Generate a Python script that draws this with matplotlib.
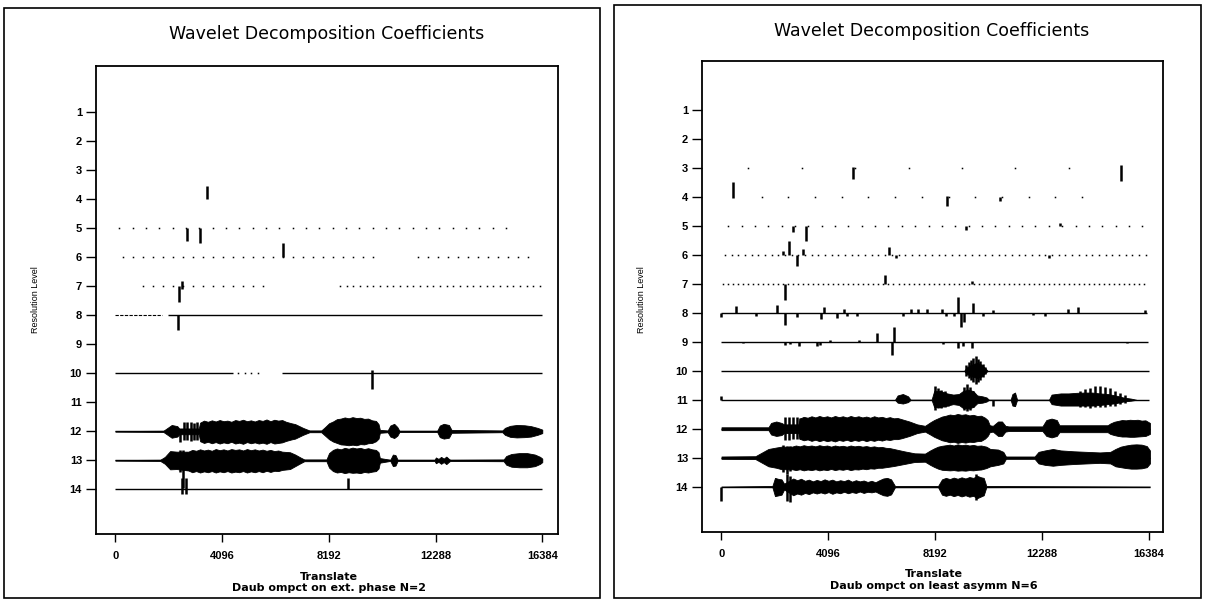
import numpy as np
import matplotlib
matplotlib.use("Agg")
import matplotlib.pyplot as plt
from matplotlib.patches import Rectangle

plt.rcParams['font.family'] = ['Liberation Sans', 'DejaVu Sans']

# ---------------- common ----------------
levels = list(range(1, 15))
x_ticks = [0, 4096, 8192, 12288, 16384]
title = "Wavelet Decomposition Coefficients"
xlabel = "Translate"
ylabel = "Resolution Level"
L_sub = "Daub ompct on ext. phase N=2"
R_sub = "Daub ompct on least asymm N=6"

# ---------------- LEFT panel data ----------------
# baselines: level, start, end
L_base_lvl = [8, 10, 10, 12, 13, 14]
L_base_x0 = [2000, 0, 6380, 0, 0, 0]
L_base_x1 = [16384, 4500, 16384, 16384, 16384, 16384]
# faint dashed start of level 8
L_faint_lvl = [8]
L_faint_x0 = [0]
L_faint_x1 = [1800]
# dotted rows (small coefficients): level, first, last, step
L_dot_lvl = [5, 6, 6, 7, 7, 10]
L_dot_x0 = [150, 300, 11600, 1070, 8620, 4700]
L_dot_x1 = [15100, 10200, 16200, 5680, 16300, 5500]
L_dot_step = [512, 384, 384, 384, 256, 256]
# isolated coefficients: level, translate, upward size, downward size
L_spk_lvl = [4, 5, 5, 6, 7, 7, 8, 10,
             12, 12, 12, 12, 12, 12,
             13, 13, 13,
             14, 14, 14]
L_spk_x = [3516, 2735, 3247, 6444, 2556, 2441, 2403, 9836,
           2480, 2640, 2760, 2890, 3020, 3150,
           2480, 2607, 2735,
           2560, 2700, 8940]
L_spk_up = [0.45, 0, 0, 0.48, 0.2, 0, 0, 0.1,
            0.05, 0.33, 0.33, 0.33, 0.3, 0.33,
            0.35, 0.35, 0.3,
            0.4, 0.4, 0.4]
L_spk_dn = [0, 0.43, 0.5, 0, 0.1, 0.55, 0.5, 0.55,
            0.35, 0.3, 0.3, 0.32, 0.3, 0.3,
            0.4, 0.97, 0.35,
            0.15, 0.15, 0]

# dense levels (envelopes): translate, upward extent, downward extent
L12_x = [0, 1840, 1970, 2160, 2375, 2450, 3200,
         3250, 3400, 3550, 3700, 3850, 4000, 4150, 4300, 4450, 4600, 4750, 4900, 5050, 5200,
         5350, 5500, 5650, 5800, 5950, 6100, 6250, 6400, 6550,
         6750, 6900, 7200, 7450,
         7900, 8050, 8200, 8350, 8500, 8650, 8800, 8950, 9100, 9250, 9400, 9550, 9700, 9850,
         10000, 10100, 10150,
         10450, 10550, 10700, 10820, 10900, 12350, 12450, 12600, 12800, 12900,
         14850, 14950, 15150, 15400, 15700, 15950, 16200, 16384]
L12_up = [0.01, 0.02, 0.1, 0.22, 0.18, 0.1, 0.1,
          0.30, 0.37, 0.33, 0.38, 0.34, 0.39, 0.35, 0.37, 0.33, 0.39, 0.36, 0.40, 0.35, 0.38,
          0.34, 0.39, 0.36, 0.41, 0.35, 0.40, 0.37, 0.39, 0.33,
          0.28, 0.25, 0.12, 0.03,
          0.03, 0.15, 0.28, 0.34, 0.42, 0.44, 0.48, 0.45, 0.49, 0.46, 0.47, 0.43, 0.44, 0.38,
          0.36, 0.25, 0.05,
          0.03, 0.2, 0.26, 0.15, 0.02, 0.02, 0.2, 0.26, 0.22, 0.05,
          0.03, 0.12, 0.19, 0.22, 0.21, 0.18, 0.12, 0.06]
L12_dn = [0.01, 0.02, 0.1, 0.22, 0.18, 0.1, 0.1,
          0.34, 0.40, 0.36, 0.41, 0.37, 0.42, 0.38, 0.41, 0.36, 0.42, 0.39, 0.43, 0.37, 0.41,
          0.38, 0.42, 0.39, 0.43, 0.37, 0.42, 0.40, 0.38, 0.33,
          0.28, 0.25, 0.12, 0.03,
          0.03, 0.15, 0.27, 0.35, 0.40, 0.45, 0.46, 0.48, 0.46, 0.48, 0.44, 0.45, 0.41, 0.40,
          0.34, 0.25, 0.05,
          0.03, 0.18, 0.23, 0.15, 0.02, 0.02, 0.2, 0.25, 0.22, 0.05,
          0.03, 0.12, 0.19, 0.21, 0.2, 0.18, 0.12, 0.06]

L13_x = [0, 1720, 1900, 2100, 2350,
         2800, 2950, 3100, 3250, 3400, 3550, 3700, 3850, 4000, 4150, 4300, 4450, 4600, 4750,
         4900, 5050, 5200, 5350, 5500, 5650, 5800, 5950, 6100, 6250, 6400,
         6700, 6900, 7100, 7250,
         8100, 8200, 8350, 8500, 8650, 8800, 8950, 9100, 9250, 9400, 9550, 9700, 9850, 10000,
         10100, 10150,
         10550, 10650, 10750, 10830, 12250, 12300, 12400, 12500, 12600, 12700, 12800, 12850,
         14900, 15000, 15200, 15500, 15800, 16100, 16300, 16384]
L13_up = [0.01, 0.02, 0.12, 0.32, 0.3,
          0.30, 0.36, 0.33, 0.38, 0.34, 0.37, 0.33, 0.39, 0.35, 0.38, 0.34, 0.39, 0.36, 0.38,
          0.34, 0.39, 0.35, 0.38, 0.34, 0.37, 0.33, 0.36, 0.32, 0.34, 0.30,
          0.28, 0.2, 0.1, 0.03,
          0.03, 0.25, 0.36, 0.41, 0.38, 0.43, 0.40, 0.44, 0.41, 0.43, 0.39, 0.42, 0.38, 0.36,
          0.28, 0.08,
          0.02, 0.2, 0.18, 0.02, 0.02, 0.1, 0.05, 0.12, 0.06, 0.13, 0.05, 0.02,
          0.03, 0.15, 0.22, 0.25, 0.25, 0.2, 0.12, 0.06]
L13_dn = [0.01, 0.02, 0.12, 0.31, 0.3,
          0.35, 0.41, 0.37, 0.42, 0.38, 0.41, 0.37, 0.42, 0.38, 0.41, 0.37, 0.42, 0.39, 0.41,
          0.37, 0.42, 0.38, 0.41, 0.37, 0.41, 0.36, 0.40, 0.36, 0.37, 0.33,
          0.3, 0.2, 0.1, 0.03,
          0.03, 0.25, 0.37, 0.42, 0.40, 0.44, 0.41, 0.43, 0.42, 0.44, 0.40, 0.42, 0.39, 0.37,
          0.28, 0.08,
          0.02, 0.2, 0.18, 0.02, 0.02, 0.1, 0.05, 0.12, 0.06, 0.13, 0.05, 0.02,
          0.03, 0.15, 0.22, 0.24, 0.24, 0.2, 0.12, 0.06]

# ---------------- RIGHT panel data ----------------
R_base_lvl = [8, 9, 10, 11, 12, 13, 14]
R_base_x0 = [0, 0, 0, 0, 0, 0, 0]
R_base_x1 = [16300, 16350, 16384, 16384, 16420, 16420, 16420]
R_faint_lvl = []
R_faint_x0 = []
R_faint_x1 = []
R_dot_lvl = [3, 4, 5, 6, 7]
R_dot_x0 = [1024, 1536, 256, 128, 64]
R_dot_x1 = [13312, 13824, 16128, 16256, 16320]
R_dot_step = [2048, 1024, 512, 256, 192]

# spikes grouped by level: (translate, up, down)
R_spk_3 = [(5040, 0.05, 0.38), (15300, 0.1, 0.45)]
R_spk_4 = [(430, 0.52, 0.03), (8632, 0.05, 0.3), (10675, 0, 0.12)]
R_spk_5 = [(2729, 0, 0.2), (3239, 0, 0.52), (9372, 0, 0.12), (12975, 0.1, 0)]
R_spk_6 = [(2369, 0.15, 0), (2599, 0.5, 0), (2882, 0, 0.38), (3112, 0.22, 0),
           (6420, 0.28, 0), (6689, 0, 0.1), (12553, 0, 0.1)]
R_spk_7 = [(2445, 0, 0.55), (6267, 0.3, 0), (9590, 0.12, 0)]
R_spk_8 = [(0, 0, 0.15), (556, 0.23, 0), (1322, 0, 0.1), (2139, 0.28, 0), (2422, 0, 0.43),
           (2906, 0, 0.15), (3802, 0, 0.2), (3929, 0.2, 0), (4415, 0, 0.18), (4695, 0.15, 0),
           (4798, 0, 0.12), (5182, 0, 0.1), (6969, 0, 0.12), (7252, 0.15, 0), (7544, 0.13, 0),
           (7866, 0.13, 0), (8464, 0.15, 0), (8593, 0, 0.12), (8924, 0, 0.12), (9054, 0.54, 0),
           (9192, 0, 0.5), (9295, 0, 0.3), (9652, 0.34, 0), (10035, 0, 0.12), (10418, 0.1, 0),
           (11952, 0, 0.08), (12400, 0, 0.1), (13293, 0.15, 0), (13677, 0.2, 0), (16233, 0.12, 0)]
R_spk_9 = [(812, 0, 0.05), (2434, 0, 0.1), (2626, 0, 0.08), (2983, 0, 0.15), (3649, 0, 0.15),
           (3776, 0, 0.12), (4159, 0.08, 0), (5282, 0.08, 0), (5949, 0.3, 0), (6547, 0, 0.45),
           (6624, 0.52, 0), (8479, 0, 0.08), (9077, 0, 0.22), (9269, 0, 0.15), (9590, 0, 0.2),
           (15531, 0, 0.05)]
R_spk_10 = [(9380, 0.2, 0.18), (9470, 0.3, 0.25), (9560, 0.38, 0.3), (9650, 0.45, 0.4),
            (9740, 0.52, 0.44), (9830, 0.42, 0.38), (9920, 0.35, 0.3), (10010, 0.25, 0.22),
            (10100, 0.15, 0.12)]
R_spk_11 = [(0, 0.14, 0), (8180, 0.48, 0.36), (8300, 0.4, 0.3), (8430, 0.35, 0.28),
            (8560, 0.3, 0.25), (8700, 0.2, 0.2), (9280, 0.45, 0.35), (9400, 0.54, 0.4),
            (9520, 0.45, 0.35), (9650, 0.3, 0.25), (10420, 0, 0.2), (13750, 0.3, 0.25),
            (13940, 0.38, 0.26), (14130, 0.42, 0.27), (14320, 0.48, 0.26), (14510, 0.46, 0.25),
            (14700, 0.44, 0.24), (14890, 0.4, 0.22), (15080, 0.32, 0.2), (15270, 0.25, 0.15),
            (15460, 0.15, 0.1)]
R_spk_12 = [(2450, 0.4, 0.38), (2600, 0.4, 0.38), (2750, 0.42, 0.36), (2880, 0.4, 0.36),
            (3000, 0.38, 0.35)]
R_spk_13 = [(2350, 0.45, 0.5), (2500, 0.4, 0.55), (2620, 0.4, 0.45)]
R_spk_14 = [(0, 0, 0.5), (2500, 0.42, 0.5), (2620, 0.35, 0.55), (9750, 0.42, 0.45)]

R10_x = [9300, 9400, 9550, 9700, 9800, 9950, 10100, 10200]
R10_up = [0.0, 0.12, 0.2, 0.25, 0.28, 0.22, 0.1, 0.0]
R10_dn = [0.0, 0.1, 0.18, 0.22, 0.25, 0.2, 0.08, 0.0]

R11_x = [6650, 6750, 6950, 7150, 7250, 8050, 8150, 8400, 8650, 8880, 9100, 9250, 9450, 9650,
         9800, 10000, 10160, 10250, 11080, 11150, 11250, 11330, 12550, 12650, 13000, 13300,
         13600, 13900, 14200, 14500, 14800, 15100, 15400, 15700, 15900]
R11_up = [0.0, 0.15, 0.2, 0.12, 0.0, 0.0, 0.3, 0.3, 0.22, 0.18, 0.2, 0.3, 0.35, 0.3, 0.15,
          0.12, 0.08, 0.0, 0.0, 0.2, 0.25, 0.0, 0.0, 0.18, 0.22, 0.22, 0.24, 0.25, 0.25, 0.22,
          0.2, 0.15, 0.08, 0.04, 0.0]
R11_dn = [0.0, 0.1, 0.13, 0.08, 0.0, 0.0, 0.25, 0.25, 0.2, 0.15, 0.18, 0.28, 0.3, 0.25, 0.12,
          0.1, 0.06, 0.0, 0.0, 0.2, 0.22, 0.0, 0.0, 0.15, 0.2, 0.2, 0.2, 0.2, 0.2, 0.18,
          0.15, 0.12, 0.06, 0.03, 0.0]

R12_x = [0, 1800, 1900, 2100, 2300, 2400, 2950,
         3000, 3150, 3300, 3450, 3600, 3750, 3900, 4050, 4200, 4350, 4500, 4650, 4800, 4950,
         5100, 5250, 5400, 5550, 5700, 5850, 6000, 6150, 6300, 6450, 6600, 6750, 6900,
         7200, 7500, 7800,
         8000, 8150, 8300, 8450, 8600, 8750, 8900, 9050, 9200, 9350, 9500, 9650, 9800, 9950,
         10100, 10200, 10280,
         10400, 10600, 10750, 10880, 11000, 12300, 12450, 12650, 12850, 12950,
         14800, 14900, 15050, 15200, 15350, 15500, 15650, 15800, 15950, 16100, 16250, 16420]
R12_up = [0.05, 0.05, 0.2, 0.25, 0.2, 0.15, 0.15,
          0.35, 0.41, 0.38, 0.43, 0.39, 0.44, 0.40, 0.43, 0.39, 0.44, 0.40, 0.43, 0.39, 0.44,
          0.40, 0.43, 0.39, 0.42, 0.38, 0.43, 0.39, 0.41, 0.37, 0.40, 0.36, 0.37, 0.33,
          0.25, 0.15, 0.1,
          0.22, 0.30, 0.36, 0.42, 0.45, 0.49, 0.47, 0.51, 0.48, 0.50, 0.46, 0.48, 0.44, 0.45,
          0.38, 0.30, 0.12,
          0.1, 0.25, 0.25, 0.1, 0.08, 0.08, 0.3, 0.35, 0.3, 0.12,
          0.12, 0.18, 0.24, 0.27, 0.3, 0.29, 0.31, 0.3, 0.31, 0.28, 0.29, 0.2]
R12_dn = [0.05, 0.05, 0.2, 0.25, 0.22, 0.15, 0.15,
          0.35, 0.40, 0.37, 0.42, 0.38, 0.43, 0.39, 0.43, 0.40, 0.44, 0.39, 0.42, 0.38, 0.43,
          0.39, 0.42, 0.38, 0.43, 0.39, 0.42, 0.38, 0.41, 0.37, 0.39, 0.36, 0.36, 0.33,
          0.25, 0.15, 0.1,
          0.20, 0.28, 0.34, 0.40, 0.43, 0.47, 0.45, 0.49, 0.46, 0.48, 0.45, 0.46, 0.43, 0.42,
          0.34, 0.25, 0.12,
          0.1, 0.25, 0.25, 0.1, 0.08, 0.08, 0.25, 0.3, 0.25, 0.12,
          0.12, 0.18, 0.22, 0.25, 0.27, 0.27, 0.28, 0.28, 0.27, 0.26, 0.25, 0.18]

R13_x = [0, 1300, 1500, 1800, 2100, 2300,
         2700, 2850, 3000, 3150, 3300, 3450, 3600, 3750, 3900, 4050, 4200, 4350, 4500, 4650,
         4800, 4950, 5100, 5250, 5400, 5550, 5700, 5850, 6000, 6150, 6300, 6450, 6600,
         7000, 7400, 7800,
         8000, 8150, 8300, 8450, 8600, 8750, 8900, 9050, 9200, 9350, 9500, 9650, 9800, 9950,
         10150, 10300,
         10600, 10800, 10900, 12000, 12150, 12400, 12700, 13000, 13500, 14000, 14500, 14900,
         15100, 15300, 15500, 15700, 15900, 16100, 16300, 16420]
R13_up = [0.04, 0.05, 0.15, 0.3, 0.35, 0.38,
          0.38, 0.42, 0.39, 0.43, 0.40, 0.42, 0.39, 0.43, 0.40, 0.42, 0.38, 0.42, 0.39, 0.41,
          0.38, 0.42, 0.39, 0.41, 0.38, 0.40, 0.37, 0.39, 0.36, 0.37, 0.34, 0.33, 0.30,
          0.22, 0.15, 0.14,
          0.25, 0.32, 0.38, 0.41, 0.43, 0.45, 0.42, 0.46, 0.43, 0.45, 0.42, 0.44, 0.41, 0.42,
          0.38, 0.30,
          0.28, 0.2, 0.04, 0.04, 0.2, 0.25, 0.3, 0.25, 0.22, 0.2, 0.18, 0.2,
          0.3, 0.38, 0.42, 0.45, 0.46, 0.45, 0.4, 0.25]
R13_dn = [0.04, 0.05, 0.15, 0.3, 0.35, 0.4,
          0.40, 0.43, 0.40, 0.44, 0.41, 0.43, 0.40, 0.44, 0.41, 0.43, 0.39, 0.43, 0.40, 0.42,
          0.39, 0.43, 0.40, 0.41, 0.38, 0.40, 0.37, 0.38, 0.35, 0.35, 0.33, 0.31, 0.29,
          0.22, 0.15, 0.14,
          0.25, 0.32, 0.38, 0.42, 0.43, 0.44, 0.43, 0.45, 0.44, 0.45, 0.43, 0.44, 0.42, 0.41,
          0.36, 0.30,
          0.25, 0.2, 0.04, 0.04, 0.2, 0.25, 0.28, 0.25, 0.22, 0.2, 0.18, 0.2,
          0.3, 0.33, 0.36, 0.38, 0.38, 0.37, 0.33, 0.2]

R14_x = [0, 1950, 2050, 2200, 2300, 2400,
         2750, 2900, 3050, 3200, 3350, 3500, 3650, 3800, 3950, 4100, 4250, 4400, 4550, 4700,
         4850, 5000, 5150, 5300, 5450, 5600, 5750, 5900, 6050, 6200, 6350, 6500,
         6650, 8300,
         8450, 8600, 8750, 8900, 9050, 9200, 9350, 9500, 9650, 9800, 9950, 10050,
         10150, 16420]
R14_up = [0.0, 0.02, 0.3, 0.26, 0.25, 0.1,
          0.28, 0.22, 0.27, 0.2, 0.24, 0.18, 0.23, 0.19, 0.25, 0.2, 0.24, 0.18, 0.22, 0.19,
          0.24, 0.17, 0.22, 0.18, 0.21, 0.16, 0.2, 0.15, 0.22, 0.28, 0.3, 0.25,
          0.02, 0.02,
          0.25, 0.3, 0.26, 0.31, 0.27, 0.32, 0.28, 0.33, 0.3, 0.37, 0.32, 0.3,
          0.02, 0.0]
R14_dn = [0.0, 0.02, 0.33, 0.3, 0.28, 0.1,
          0.3, 0.24, 0.28, 0.22, 0.26, 0.2, 0.24, 0.2, 0.24, 0.19, 0.25, 0.2, 0.23, 0.18,
          0.23, 0.19, 0.22, 0.17, 0.22, 0.18, 0.2, 0.17, 0.24, 0.3, 0.32, 0.27,
          0.02, 0.02,
          0.28, 0.32, 0.28, 0.33, 0.29, 0.34, 0.3, 0.35, 0.32, 0.4, 0.34, 0.3,
          0.02, 0.0]

# build flat spike table for the right panel
R_spk_groups = {3: R_spk_3, 4: R_spk_4, 5: R_spk_5, 6: R_spk_6, 7: R_spk_7, 8: R_spk_8,
                9: R_spk_9, 10: R_spk_10, 11: R_spk_11, 12: R_spk_12, 13: R_spk_13,
                14: R_spk_14}
R_spk_lvl, R_spk_x, R_spk_up, R_spk_dn = [], [], [], []
for lv, items in R_spk_groups.items():
    for (xx, uu, dd) in items:
        R_spk_lvl.append(lv)
        R_spk_x.append(xx)
        R_spk_up.append(uu)
        R_spk_dn.append(dd)


def draw_panel(ax, base, faint, dots, spikes, envs, xlim, ylim):
    for lvl, x0, x1 in zip(*base):
        ax.plot([x0, x1], [lvl, lvl], color='k', lw=1.0, solid_capstyle='butt')
    for lvl, x0, x1 in zip(*faint):
        ax.plot([x0, x1], [lvl, lvl], color='k', lw=0.8, ls=(0, (3, 1.2)))
    for lvl, x0, x1, st in zip(*dots):
        xs = np.arange(x0, x1 + 1, st)
        ax.plot(xs, np.full(len(xs), lvl), ls='none', marker='s', ms=1.1,
                mfc='k', mec='none')
    for lvl, (xe, up, dn) in envs.items():
        xe = np.asarray(xe, float)
        ax.fill_between(xe, lvl - np.asarray(up), lvl + np.asarray(dn),
                        facecolor='k', lw=0.6, edgecolor='k')
    lv, xs, up, dn = spikes
    lv = np.asarray(lv, float)
    ax.vlines(xs, lv - np.asarray(up), lv + np.asarray(dn), color='k', lw=1.8)
    ax.set_xlim(*xlim)
    ax.set_ylim(*ylim)
    ax.set_xticks(x_ticks)
    ax.set_xticklabels([str(t) for t in x_ticks], fontsize=8, fontweight='bold')
    ax.set_yticks(levels)
    ax.set_yticklabels([str(v) for v in levels], fontsize=8, fontweight='bold')
    ax.tick_params(direction='out', length=6, width=1.0, pad=6)
    ax.tick_params(axis='y', length=7, pad=3)
    for s in ax.spines.values():
        s.set_linewidth(1.3)


W, H = 1206, 601
fig = plt.figure(figsize=(W / 100, H / 100), dpi=100)

# panel frames
fig.patches.append(Rectangle((4 / W, 1 - 598 / H), 596 / W, 590 / H, transform=fig.transFigure,
                             fill=False, lw=1.2, ec='k'))
fig.patches.append(Rectangle((614 / W, 1 - 598 / H), 587 / W, 593 / H, transform=fig.transFigure,
                             fill=False, lw=1.2, ec='k'))

axL = fig.add_axes([96 / W, 1 - 534 / H, 462 / W, 468 / H])
draw_panel(axL, (L_base_lvl, L_base_x0, L_base_x1),
           (L_faint_lvl, L_faint_x0, L_faint_x1),
           (L_dot_lvl, L_dot_x0, L_dot_x1, L_dot_step),
           (L_spk_lvl, L_spk_x, L_spk_up, L_spk_dn),
           {12: (L12_x, L12_up, L12_dn), 13: (L13_x, L13_up, L13_dn)},
           (-745, 16987), (15.54, -0.6))

axR = fig.add_axes([702 / W, 1 - 532 / H, 461 / W, 471 / H])
draw_panel(axR, (R_base_lvl, R_base_x0, R_base_x1),
           (R_faint_lvl, R_faint_x0, R_faint_x1),
           (R_dot_lvl, R_dot_x0, R_dot_x1, R_dot_step),
           (R_spk_lvl, R_spk_x, R_spk_up, R_spk_dn),
           {10: (R10_x, R10_up, R10_dn), 11: (R11_x, R11_up, R11_dn),
            12: (R12_x, R12_up, R12_dn), 13: (R13_x, R13_up, R13_dn),
            14: (R14_x, R14_up, R14_dn)},
           (-747, 16921), (15.57, -0.71))

# texts
tfont = dict(family='DejaVu Sans', fontsize=12.5)
sfont = dict(family='DejaVu Sans', fontweight='bold', fontsize=8)
fig.text(327 / W, 1 - 34 / H, title, ha='center', va='center', **tfont)
fig.text(932 / W, 1 - 31 / H, title, ha='center', va='center', **tfont)
fig.text(329 / W, 1 - 577 / H, xlabel, ha='center', va='center', **sfont)
fig.text(329 / W, 1 - 588 / H, L_sub, ha='center', va='center', **sfont)
fig.text(934 / W, 1 - 574 / H, xlabel, ha='center', va='center', **sfont)
fig.text(934 / W, 1 - 586 / H, R_sub, ha='center', va='center', **sfont)
fig.text(36 / W, 1 - 300 / H, ylabel, ha='center', va='center', rotation=90, fontsize=6.5)
fig.text(641 / W, 1 - 300 / H, ylabel, ha='center', va='center', rotation=90, fontsize=6.5)

fig.savefig("out.png", dpi=100)
